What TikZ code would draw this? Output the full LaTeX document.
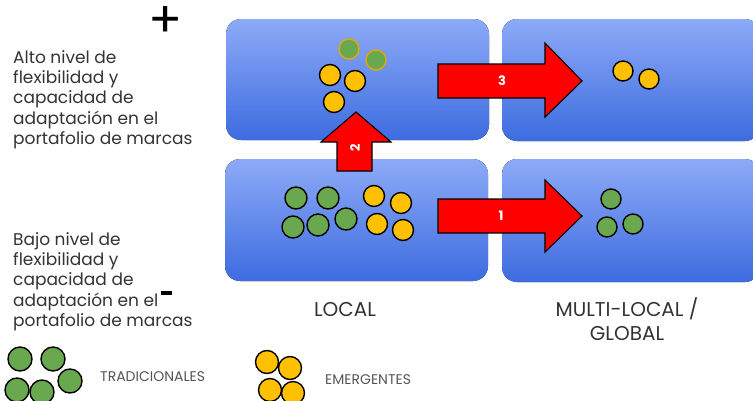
\documentclass[tikz,border=0pt]{standalone}
\usepackage{fontspec}
\setmainfont{Poppins}
\usepackage{tikz}

\definecolor{boxtop}{HTML}{8DAAF7}
\definecolor{boxbottom}{HTML}{3D6CE0}
\definecolor{dotgreen}{HTML}{6AA84F}
\definecolor{dotyellow}{HTML}{FFC000}
\definecolor{dotrim}{HTML}{E0A800}
\definecolor{arrowred}{HTML}{FF0000}
\definecolor{txtgray}{HTML}{333333}
\definecolor{legendgray}{HTML}{555555}

\begin{document}
\begin{tikzpicture}[x=1pt, y=-1pt,
    panel/.style={rounded corners=15pt, top color=boxtop, bottom color=boxbottom, draw=none},
    trad/.style={fill=dotgreen, draw=black, line width=1.4pt},
    emer/.style={fill=dotyellow, draw=black, line width=1.4pt},
    bigarrow/.style={fill=arrowred, draw=black, line width=1.1pt, line join=miter},
    arrowlabel/.style={text=white, font=\fontsize{13}{13}\selectfont\bfseries, inner sep=0pt},
    sidetext/.style={anchor=north west, align=left, inner sep=0pt, text=txtgray, font=\fontsize{17}{20.4}\selectfont},
    columnlabel/.style={align=center, inner sep=0pt, text=txtgray, font=\fontsize{20}{24}\selectfont},
    legendtext/.style={anchor=west, inner sep=0pt, text=legendgray, font=\fontsize{14}{14}\selectfont}]
    \useasboundingbox (0,0) rectangle (753,400);

    % four panels
    \fill[panel] (226,19) rectangle (489,140);
    \fill[panel] (225,159) rectangle (488,281);
    \fill[panel] (502,19) rectangle (760,141);
    \fill[panel] (502,159) rectangle (760,282);

    % left texts
    \node[sidetext] (alto) at (13,50) {Alto nivel de\\flexibilidad y\\capacidad de\\adaptaci\'on en el\\portafolio de marcas};
    \node[sidetext] (bajo) at (13,232) {Bajo nivel de\\flexibilidad y\\capacidad de\\adaptaci\'on en el\\portafolio de marcas};
    \node[inner sep=0pt, font=\fontsize{50}{50}\selectfont] (mas) at (166,22) {+};
    \fill (161,291) rectangle (172,295);

    % arrows
    \draw[bigarrow] (438,64) -- (545,64) -- (545,43) -- (582,81) -- (545,117) -- (545,98) -- (438,98) -- cycle;
    \draw[bigarrow] (438,199) -- (545,199) -- (545,180) -- (582,216) -- (545,252) -- (545,233) -- (438,233) -- cycle;
    \draw[bigarrow] (337,171) -- (337,142) -- (321,142) -- (356,112) -- (391,142) -- (372,142) -- (372,171) -- cycle;
    \node[arrowlabel] (tres) at (502,81) {3};
    \node[arrowlabel] (uno) at (501,216) {1};
    \node[arrowlabel, rotate=90] (dos) at (355,148) {2};

    % dots, local high
    \draw[fill=dotgreen, draw=dotrim, line width=1.4pt] (349,49) circle (10);
    \draw[fill=dotgreen, draw=dotrim, line width=1.4pt] (376,60) circle (10);
    \foreach \x/\y in {330/75, 355/81, 334/102}
        \draw[emer] (\x,\y) circle (10.5);

    % dots, local low
    \foreach \x/\y in {296/198, 328/198, 293/227, 318/225, 346/219}
        \draw[trad] (\x,\y) circle (11);
    \foreach \x/\y in {374/196, 401/203, 377/224, 403/230}
        \draw[emer] (\x,\y) circle (10.5);

    % dots, multi-local
    \draw[emer] (623,71) circle (10);
    \draw[emer] (649,79) circle (10);
    \foreach \x/\y in {611/199, 607/227, 633/224}
        \draw[trad] (\x,\y) circle (10);

    % column labels
    \node[columnlabel, anchor=base] (local) at (345,316) {LOCAL};
    \node[columnlabel, anchor=base] (multi) at (627,316) {MULTI-LOCAL /};
    \node[columnlabel, anchor=base] (global) at (627,340) {GLOBAL};

    % legend
    \foreach \x/\y in {20/359, 53/359, 17/390, 42/392, 70/381}
        \draw[trad] (\x,\y) circle (12);
    \node[legendtext] (tradicionales) at (100,377) {TRADICIONALES};
    \foreach \x/\y in {267/362, 290/368, 270/390, 293/393}
        \draw[emer] (\x,\y) circle (11.5);
    \node[legendtext] (emergentes) at (325,380) {EMERGENTES};
\end{tikzpicture}
\end{document}
